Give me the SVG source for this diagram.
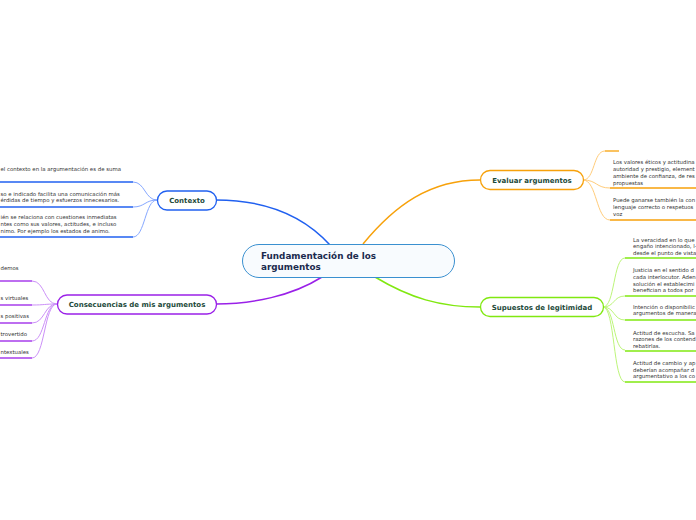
<svg xmlns="http://www.w3.org/2000/svg" width="696" height="520" viewBox="0 0 696 520">
<style>
.lbl{font-family:"DejaVu Sans",Verdana,sans-serif;font-weight:bold;font-size:7px;fill:#1d4a3a}
.txt{font-family:"DejaVu Sans",Verdana,sans-serif;font-size:5.4px;fill:#333}
.main{font-family:"DejaVu Sans",Verdana,sans-serif;font-weight:bold;font-size:8.8px;fill:#1b2a4e}
.c{fill:none}
</style>
<rect width="696" height="520" fill="#fff"/>
<g id="connectors" class="c">
<path d="M330,245 C300,212 260,200 216,200" stroke="#2060f0" stroke-width="1.5"/>
<path d="M322,277 C292,296 252,304 216,304" stroke="#9a20e8" stroke-width="1.5"/>
<path d="M363,244 C395,205 430,180 480,180" stroke="#f7a10a" stroke-width="1.5"/>
<path d="M375,277 C410,298 440,307 480,307" stroke="#80e810" stroke-width="1.5"/>
<g stroke="#86a8ff" stroke-width="1">
<path d="M157,200 C145,200 145,182 133,182"/>
<path d="M157,200 C145,200 145,207 133,207"/>
<path d="M157,200 C145,200 145,237 133,237"/>
</g>
<g stroke="#cc90f8" stroke-width="1">
<path d="M57,304 C44,304 45,281 32,281"/>
<path d="M57,304 C44,304 45,305 32,305"/>
<path d="M57,304 C44,304 45,323 32,323"/>
<path d="M57,304 C44,304 45,341 32,341"/>
<path d="M57,304 C44,304 45,358 32,358"/>
</g>
<g stroke="#ffcc7a" stroke-width="1">
<path d="M583,180 C595,180 593,151 605,151"/>
<path d="M583,180 C597,180 596,188 610,188"/>
<path d="M583,180 C597,180 596,220 610,220"/>
</g>
<g stroke="#bdf57a" stroke-width="1">
<path d="M603,307 C615,307 613,258 625,258"/>
<path d="M603,307 C615,307 613,296 625,296"/>
<path d="M603,307 C615,307 613,320 625,320"/>
<path d="M603,307 C615,307 613,350 625,350"/>
<path d="M603,307 C615,307 613,382 625,382"/>
</g>
</g>
<g id="central">
<rect x="242.5" y="244.5" width="212" height="33" rx="16.5" fill="#f8fbfe" stroke="#3a90d0" stroke-width="1"/>
<text class="main" x="261" y="259">Fundamentación de los</text>
<text class="main" x="261" y="270">argumentos</text>
</g>
<g id="contexto">
<rect x="157.5" y="191" width="59" height="19" rx="9.5" fill="#fff" stroke="#2060f0" stroke-width="1.3"/>
<text class="lbl" x="187" y="203" text-anchor="middle">Contexto</text>
</g>
<g id="contexto-1">
<text class="txt" x="0.5" y="171">el contexto en la argumentación es de suma</text>
<line x1="0" y1="182" x2="133" y2="182" stroke="#2060f0" stroke-width="1.3"/>
</g>
<g id="contexto-2">
<text class="txt" x="0.5" y="196">so e indicado facilita una comunicación más</text>
<text class="txt" x="0.5" y="202">érdidas de tiempo y esfuerzos innecesarios.</text>
<line x1="0" y1="207" x2="133" y2="207" stroke="#2060f0" stroke-width="1.3"/>
</g>
<g id="contexto-3">
<text class="txt" x="0.5" y="219">ién se relaciona con cuestiones inmediatas</text>
<text class="txt" x="0.5" y="226">ntes como sus valores, actitudes, e incluso</text>
<text class="txt" x="0.5" y="233">nimo. Por ejemplo los estados de animo.</text>
<line x1="0" y1="237" x2="133" y2="237" stroke="#2060f0" stroke-width="1.3"/>
</g>
<g id="consecuencias">
<rect x="57.5" y="295" width="159" height="19" rx="9.5" fill="#fff" stroke="#9a20e8" stroke-width="1.3"/>
<text class="lbl" x="137" y="307" text-anchor="middle">Consecuencias de mis argumentos</text>
</g>
<g id="consecuencias-1">
<text class="txt" x="0.5" y="270">demos</text>
<line x1="0" y1="281" x2="32" y2="281" stroke="#9a20e8" stroke-width="1.3"/>
</g>
<g id="consecuencias-2">
<text class="txt" x="0.5" y="300">s virtuales</text>
<line x1="0" y1="305" x2="32" y2="305" stroke="#9a20e8" stroke-width="1.3"/>
</g>
<g id="consecuencias-3">
<text class="txt" x="0.5" y="318">s positivas</text>
<line x1="0" y1="323" x2="32" y2="323" stroke="#9a20e8" stroke-width="1.3"/>
</g>
<g id="consecuencias-4">
<text class="txt" x="0.5" y="336">trovertido</text>
<line x1="0" y1="341" x2="32" y2="341" stroke="#9a20e8" stroke-width="1.3"/>
</g>
<g id="consecuencias-5">
<text class="txt" x="0.5" y="354">ntextuales</text>
<line x1="0" y1="358" x2="32" y2="358" stroke="#9a20e8" stroke-width="1.3"/>
</g>
<g id="evaluar">
<rect x="480.5" y="170.5" width="103" height="19" rx="9.5" fill="#fff" stroke="#f7a10a" stroke-width="1.3"/>
<text class="lbl" x="532" y="183" text-anchor="middle">Evaluar argumentos</text>
</g>
<g id="evaluar-1">
<line x1="605" y1="151" x2="619" y2="151" stroke="#f7a10a" stroke-width="1.3"/>
</g>
<g id="evaluar-2">
<text class="txt" x="613" y="164">Los valores éticos y actitudina</text>
<text class="txt" x="613" y="171">autoridad y prestigio, element</text>
<text class="txt" x="613" y="178">ambiente de confianza, de res</text>
<text class="txt" x="613" y="185">propuestas</text>
<line x1="610" y1="188" x2="696" y2="188" stroke="#f7a10a" stroke-width="1.3"/>
</g>
<g id="evaluar-3">
<text class="txt" x="613" y="202">Puede ganarse también la con</text>
<text class="txt" x="613" y="209">lenguaje correcto o respetuos</text>
<text class="txt" x="613" y="216">voz</text>
<line x1="610" y1="220" x2="696" y2="220" stroke="#f7a10a" stroke-width="1.3"/>
</g>
<g id="supuestos">
<rect x="480.5" y="297.5" width="123" height="19" rx="9.5" fill="#fff" stroke="#80e810" stroke-width="1.3"/>
<text class="lbl" x="542" y="310" text-anchor="middle">Supuestos de legitimidad</text>
</g>
<g id="supuestos-1">
<text class="txt" x="633" y="242">La veracidad en lo que</text>
<text class="txt" x="633" y="248">engaño intencionado, l-</text>
<text class="txt" x="633" y="255">desde el punto de vista</text>
<line x1="625" y1="258" x2="696" y2="258" stroke="#80e810" stroke-width="1.3"/>
</g>
<g id="supuestos-2">
<text class="txt" x="633" y="272">Justicia en el sentido d</text>
<text class="txt" x="633" y="279">cada interlocutor. Aden</text>
<text class="txt" x="633" y="286">solución el establecimi</text>
<text class="txt" x="633" y="292">benefician a todos por</text>
<line x1="625" y1="296" x2="696" y2="296" stroke="#80e810" stroke-width="1.3"/>
</g>
<g id="supuestos-3">
<text class="txt" x="633" y="309">Intención o disponibilic</text>
<text class="txt" x="633" y="315">argumentos de manera</text>
<line x1="625" y1="320" x2="696" y2="320" stroke="#80e810" stroke-width="1.3"/>
</g>
<g id="supuestos-4">
<text class="txt" x="633" y="335">Actitud de escucha. Sa</text>
<text class="txt" x="633" y="341">razones de los contend</text>
<text class="txt" x="633" y="348">rebatirlas.</text>
<line x1="625" y1="351" x2="696" y2="351" stroke="#80e810" stroke-width="1.3"/>
</g>
<g id="supuestos-5">
<text class="txt" x="633" y="365">Actitud de cambio y ap</text>
<text class="txt" x="633" y="372">deberían acompañar d</text>
<text class="txt" x="633" y="378">argumentativo a los co</text>
<line x1="625" y1="382" x2="696" y2="382" stroke="#80e810" stroke-width="1.3"/>
</g>
</svg>
